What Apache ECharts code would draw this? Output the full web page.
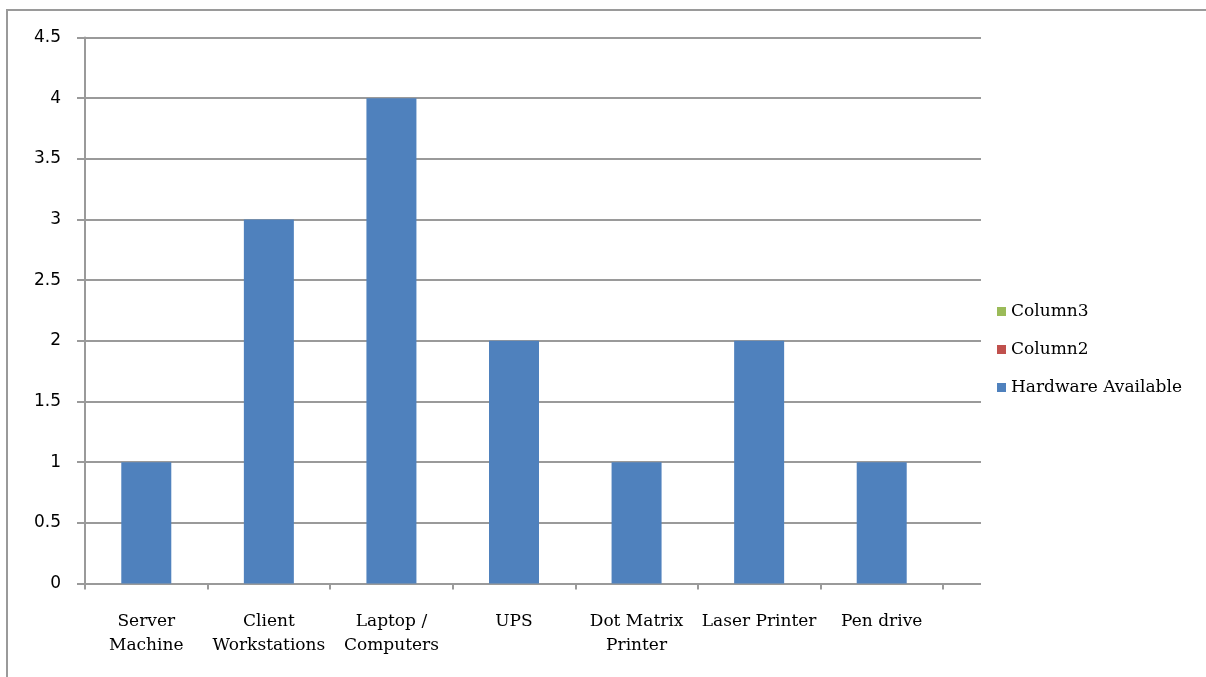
<!DOCTYPE html>
<html>
<head>
<meta charset="utf-8">
<script src="https://cdn.jsdelivr.net/npm/echarts@6/dist/echarts.min.js"></script>
<style>
  html, body { margin: 0; padding: 0; background: #fff; }
  #frame {
    position: absolute; left: 6px; top: 9px; width: 1400px; height: 900px;
    border-left: 2px solid #9a9a9a; border-top: 2px solid #9a9a9a;
  }
  #chart { position: absolute; left: 0; top: 0; width: 1206px; height: 677px; }
</style>
</head>
<body>
<div id="frame"></div>
<div id="chart"></div>
<script>
// 数据
const categories = ['Server\nMachine', 'Client\nWorkstations', 'Laptop /\nComputers', 'UPS', 'Dot Matrix\nPrinter', 'Laser Printer', 'Pen drive']
const hardwareAvailable = [1, 3, 4, 2, 1, 2, 1]
const column2 = []
const column3 = []
const yTicks = [0, 0.5, 1, 1.5, 2, 2.5, 3, 3.5, 4, 4.5]

const gridColor = '#9a9a9a'
const serif = 'DejaVu Serif'
const chart = echarts.init(document.getElementById('chart'))

const option = {
  animation: false,
  legend: {
    orient: 'vertical',
    left: 992,
    top: 298,
    itemWidth: 9,
    itemHeight: 9,
    itemGap: 21,
    icon: 'rect',
    data: ['Column3', 'Column2', 'Hardware Available'],
    textStyle: { fontFamily: serif, fontSize: 17, color: '#000' }
  },
  grid: [
    // 柱子所在区域（7个类目）
    { left: 85, right: 263, top: 37.5, bottom: 93.5 },
    // 网格线区域（比类目区域更宽）
    { left: 85, right: 225, top: 37.5, bottom: 93.5 }
  ],
  xAxis: [
    {
      type: 'category',
      gridIndex: 0,
      data: categories,
      axisLine: { show: false },
      axisTick: { show: true, length: 6, interval: 0, lineStyle: { color: gridColor, width: 2 } },
      axisLabel: {
        interval: 0,
        margin: 26,
        fontFamily: serif,
        fontSize: 17,
        lineHeight: 24,
        color: '#000'
      }
    },
    {
      type: 'value',
      gridIndex: 1,
      show: false
    }
  ],
  yAxis: [
    {
      type: 'value',
      gridIndex: 0,
      min: 0,
      max: 4.5,
      interval: 0.5,
      show: false
    },
    {
      type: 'value',
      gridIndex: 1,
      min: yTicks[0],
      max: yTicks[yTicks.length - 1],
      interval: 0.5,
      axisLine: { show: true, lineStyle: { color: gridColor, width: 2 } },
      axisTick: { show: true, length: 8, lineStyle: { color: gridColor, width: 2 } },
      axisLabel: { margin: 24, fontFamily: 'DejaVu Sans', fontSize: 17, color: '#000' },
      splitLine: { show: true, lineStyle: { color: gridColor, width: 2 } }
    }
  ],
  series: [
    {
      name: 'Hardware Available',
      type: 'bar',
      xAxisIndex: 0,
      yAxisIndex: 0,
      data: hardwareAvailable,
      barWidth: 50,
      barGap: '-100%',
      itemStyle: { color: '#4F81BD' }
    },
    {
      name: 'Column2',
      type: 'bar',
      xAxisIndex: 0,
      yAxisIndex: 0,
      data: column2,
      barWidth: 50,
      barGap: '-100%',
      itemStyle: { color: '#C0504D' }
    },
    {
      name: 'Column3',
      type: 'bar',
      xAxisIndex: 0,
      yAxisIndex: 0,
      data: column3,
      barWidth: 50,
      barGap: '-100%',
      itemStyle: { color: '#9BBB59' }
    }
  ]
}

chart.setOption(option)
</script>
</body>
</html>
